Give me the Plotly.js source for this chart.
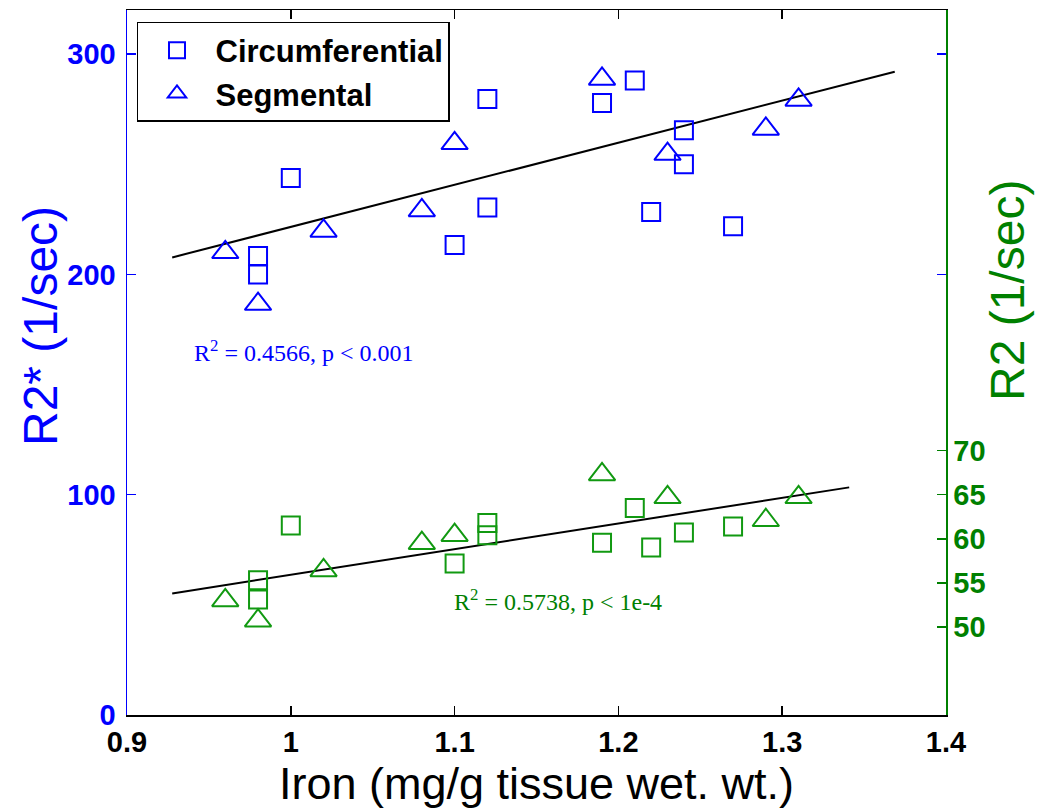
<!DOCTYPE html>
<html>
<head>
<meta charset="utf-8">
<script src="https://cdn.plot.ly/plotly-3.0.1.min.js"></script>
<style>html,body{margin:0;padding:0;background:#fff;}#chart{width:1039px;height:809px;}</style>
</head>
<body>
<div id="chart"></div>
<script>
// ---- data ----
// R2* (left axis, 1/sec)
const circX_R2s = [0.98, 0.98, 1.00, 1.10, 1.12, 1.12, 1.19, 1.21, 1.22, 1.24, 1.24, 1.27];
const circY_R2s = [208.3, 200.0, 243.7, 213.3, 230.3, 279.6, 277.8, 288.0, 228.3, 265.4, 250.0, 221.9];
const segX_R2s = [0.96, 0.98, 1.02, 1.08, 1.10, 1.19, 1.23, 1.29, 1.31];
const segY_R2s = [210.0, 186.5, 219.7, 229.0, 259.5, 288.7, 254.6, 266.0, 279.2];
// R2 (right axis, 1/sec)
const circX_R2 = [0.98, 0.98, 1.00, 1.10, 1.12, 1.12, 1.19, 1.21, 1.22, 1.24, 1.27];
const circY_R2 = [55.3, 53.1, 61.5, 57.2, 61.8, 60.4, 59.55, 63.5, 59.0, 60.7, 61.4];
const segX_R2 = [0.96, 0.98, 1.02, 1.08, 1.10, 1.19, 1.23, 1.29, 1.31];
const segY_R2 = [53.0, 50.7, 56.4, 59.5, 60.4, 67.3, 64.7, 62.1, 64.7];
// regression lines
const fitX_R2s = [0.9276, 1.3687];
const fitY_R2s = [207.7, 292.0];
const fitX_R2 = [0.9276, 1.3409];
const fitY_R2 = [53.8, 65.83];
// ticks
const xTicks = [0.9, 1.0, 1.1, 1.2, 1.3, 1.4];
const xTickText = ['0.9', '1', '1.1', '1.2', '1.3', '1.4'];
const yTicks = [0, 100, 200, 300];
const y2Ticks = [50, 55, 60, 65, 70];
// labels
const seriesNames = ['Circumferential', 'Segmental'];
const xTitle = 'Iron (mg/g tissue wet. wt.)';
const yTitle = 'R2* (1/sec)';
const y2Title = 'R2 (1/sec)';
const statText1 = 'R<sup>2</sup> = 0.4566, p &lt; 0.001';
const statText2 = 'R<sup>2</sup> = 0.5738, p &lt; 1e-4';

const BLUE = '#0000ff';
const GREEN = '#008000';
const GREEN_M = '#119911';
const SANS = 'Liberation Sans, Arial, Helvetica, sans-serif';
const SERIF = 'Liberation Serif, Times New Roman, serif';

const sq = (c) => ({symbol: 'square-open', size: 18, color: c, line: {color: c, width: 2}});
const tri = (c) => ({symbol: 'triangle-up-open', size: 23, color: c, line: {color: c, width: 2}});

const traces = [
  {x: fitX_R2s, y: fitY_R2s, mode: 'lines', line: {color: '#000', width: 2}, showlegend: false, hoverinfo: 'skip'},
  {x: fitX_R2, y: fitY_R2, yaxis: 'y2', mode: 'lines', line: {color: '#000', width: 2}, showlegend: false, hoverinfo: 'skip'},
  {x: circX_R2s, y: circY_R2s, mode: 'markers', name: seriesNames[0], marker: sq(BLUE)},
  {x: segX_R2s, y: segY_R2s, mode: 'markers', name: seriesNames[1], marker: tri(BLUE)},
  {x: circX_R2, y: circY_R2, yaxis: 'y2', mode: 'markers', name: seriesNames[0], marker: sq(GREEN_M), showlegend: false},
  {x: segX_R2, y: segY_R2, yaxis: 'y2', mode: 'markers', name: seriesNames[1], marker: tri(GREEN_M), showlegend: false}
];

const tickFont = (c) => ({family: SANS, size: 29, color: c, weight: 'bold'});

const layout = {
  width: 1039, height: 809,
  margin: {l: 127, r: 93, t: 10, b: 94},
  paper_bgcolor: '#fff', plot_bgcolor: '#fff',
  showlegend: true,
  legend: {
    x: 0.0122, y: 0.983, xanchor: 'left', yanchor: 'top',
    bgcolor: '#fff', bordercolor: '#000', borderwidth: 1.5,
    font: {family: SANS, size: 31, color: '#000', weight: 'bold'},
    itemwidth: 67
  },
  xaxis: {
    range: [0.9, 1.4], tickmode: 'array', tickvals: xTicks, ticktext: xTickText,
    ticks: 'inside', ticklen: 9, tickwidth: 1.5, tickcolor: '#000',
    showline: true, linecolor: '#000', linewidth: 1.5, mirror: 'ticks',
    showgrid: false, zeroline: false,
    tickfont: tickFont('#000'),
    ticklabelstandoff: 1,
    title: {text: xTitle, font: {family: SANS, size: 45, color: '#000'}, standoff: 2}
  },
  yaxis: {
    range: [0, 320], tickmode: 'array', tickvals: yTicks,
    ticks: 'inside', ticklen: 9, tickwidth: 1.5, tickcolor: BLUE,
    showline: true, linecolor: BLUE, linewidth: 1.5, mirror: 'ticks',
    showgrid: false, zeroline: false,
    tickfont: tickFont(BLUE),
    ticklabelstandoff: 4
  },
  yaxis2: {
    overlaying: 'y', side: 'right',
    range: [40, 120], tickmode: 'array', tickvals: y2Ticks,
    ticks: 'inside', ticklen: 9, tickwidth: 1.5, tickcolor: GREEN,
    showline: true, linecolor: GREEN, linewidth: 1.5,
    showgrid: false, zeroline: false,
    tickfont: tickFont(GREEN),
    ticklabelstandoff: 0
  },
  annotations: [
    {x: 0.9396, y: 165.2, xref: 'x', yref: 'y', xanchor: 'left', yanchor: 'middle', showarrow: false,
     text: statText1, font: {family: SERIF, size: 24, color: BLUE}},
    {x: 1.0986, y: 52.2, xref: 'x', yref: 'y', xanchor: 'left', yanchor: 'middle', showarrow: false,
     text: statText2, font: {family: SERIF, size: 24, color: GREEN}},
    {x: 40, y: 326, xref: 'paper', yref: 'paper', showarrow: false, textangle: -90,
     text: yTitle, font: {family: SANS, size: 48, color: BLUE}},
    {x: 1007, y: 291, xref: 'paper', yref: 'paper', showarrow: false, textangle: -90,
     text: y2Title, font: {family: SANS, size: 48, color: GREEN}}
  ]
};
// convert the two axis-title annotation positions from pixels to paper fractions
(function () {
  const L = layout.margin.l, T = layout.margin.t;
  const W = layout.width - L - layout.margin.r, H = layout.height - T - layout.margin.b;
  [layout.annotations[2], layout.annotations[3]].forEach(a => {
    a.x = (a.x - L) / W;
    a.y = 1 - (a.y - T) / H;
    a.xanchor = 'center'; a.yanchor = 'middle';
  });
})();

Plotly.newPlot('chart', traces, layout, {displayModeBar: false, staticPlot: true});
</script>
</body>
</html>
